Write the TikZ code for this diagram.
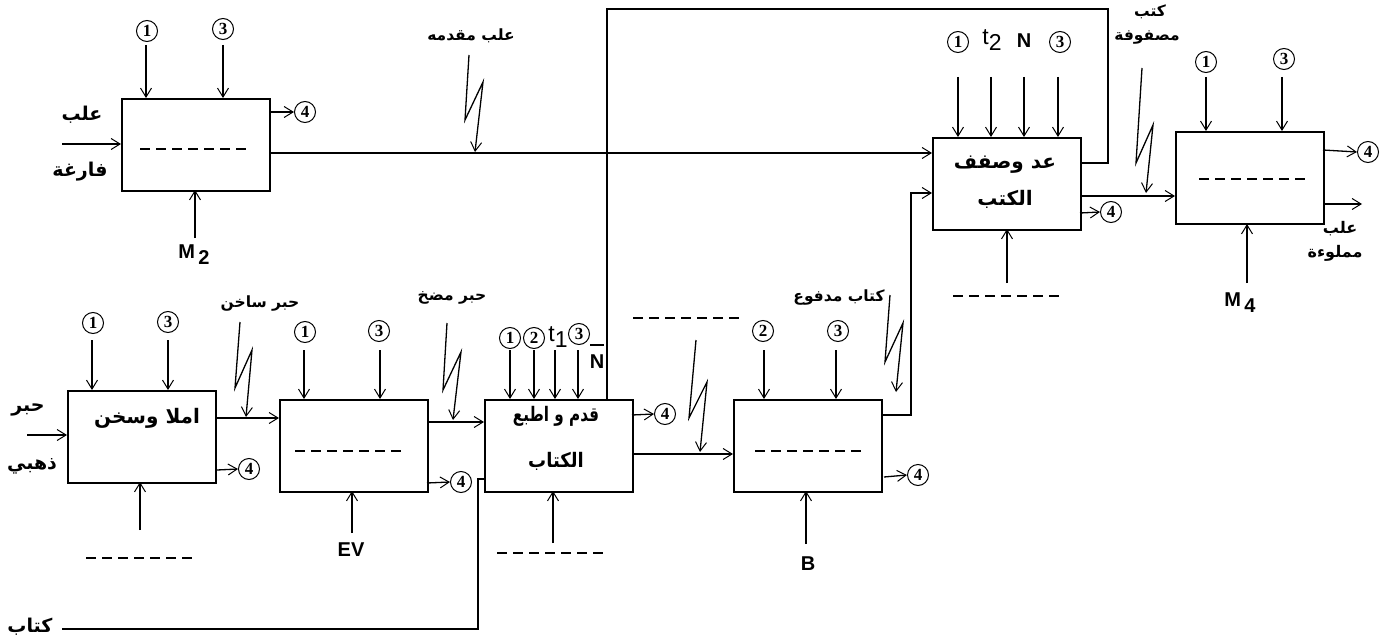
\documentclass[tikz,border=0pt]{standalone}
\usepackage{fontspec}
\setmainfont{Liberation Sans}
\newfontfamily\arabicfont[Script=Arabic]{DejaVu Sans}
\newfontfamily\numfont{Liberation Serif}
\TeXXeTstate=1
\usetikzlibrary{arrows.meta}
\newcommand{\ar}[1]{{\arabicfont\bfseries\beginR #1\endR}}
\begin{document}
\begin{tikzpicture}[x=1pt,y=-1pt,line width=1.3pt,
  arr/.style={-{Straight Barb[length=9pt,width=11pt,line width=1pt]}},
  proc/.style={draw,line width=1.8pt,minimum width=148pt,minimum height=92pt,inner sep=0pt,anchor=north west},
  num/.style={circle,draw,line width=1pt,inner sep=0pt,minimum size=21pt,font=\fontsize{17}{17}\selectfont\numfont\bfseries},
  lab/.style={font=\fontsize{15.5}{17}\selectfont,inner sep=0pt},
  blab/.style={font=\fontsize{19}{19}\selectfont,inner sep=0pt},
  big/.style={font=\fontsize{20}{37}\selectfont,align=center,inner sep=0pt},
  lt/.style={font=\fontsize{20}{20}\selectfont\bfseries,inner sep=0pt},
  tl/.style={font=\fontsize{23}{23}\selectfont,inner sep=0pt},
  ph/.style={dash pattern=on 10pt off 6pt,line width=1.3pt}]
\useasboundingbox (0,0) rectangle (1390,642);

% ---------- boxes ----------
\node[proc] (b1) at (121,98) {};
\node[proc] (b3) at (932,137) {};
\node[proc] (b4) at (1175,131) {};
\node[proc] (bA) at (67,390) {};
\node[proc] (bB) at (279,399) {};
\node[proc] (bC) at (484,399) {};
\node[proc] (bD) at (733,399) {};

% texts / placeholders inside boxes
\draw[ph] (140,149) -- (248,149);
\draw[ph] (1199,179) -- (1308,179);
\draw[ph] (295,451) -- (404,451);
\draw[ph] (755,451) -- (864,451);
\node[big] (t3) at (1005,182) {\ar{عد وصفف}\\\ar{الكتب}};
\node[big] (tA) at (147,418) {\ar{املا وسخن}};
\node[big,font=\fontsize{20}{46}\selectfont] (tC) at (556,438) {\scalebox{0.76}[1]{\ar{قدم و اطبع}}\\\scalebox{0.9}[1]{\ar{الكتاب}}};

% ---------- box 1 (top left) ----------
\node[num] (n11) at (147,31) {1};
\node[num] (n13) at (223,29) {3};
\draw[arr] (146,45) -- (146,98);
\draw[arr] (223,45) -- (223,98);
\coordinate (o1a) at (270,112);
\node[num] (n14) at (305,112) {4};
\draw[arr] (o1a) -- (n14.west);
\coordinate (i1) at (62,144);
\draw[arr] (i1) -- (i1 -| b1.west);
\node[blab] (l1a) at (82,115) {\ar{علب}};
\node[blab] (l1b) at (80,172) {\ar{فارغة}};
\node[lt] (m2) at (194,255) {M\,\raisebox{-6pt}{2}};
\draw[arr] (195,238) -- (195,190);

% ---------- box 3 ----------
\node[num] (n31) at (958,42) {1};
\node[tl] (t2) at (992,40) {t\raisebox{-6pt}{2}};
\node[lt] (nN) at (1024,41) {N};
\node[num] (n33) at (1060,42) {3};
\foreach \x in {958,991,1024,1058} \draw[arr] (\x,77) -- (\x,137);
\node[num] (n34) at (1111,212) {4};
\draw[arr] (1080,213) -- (n34.west);
\draw[arr] (1007,283) -- (1007,229);
\draw[ph] (953,296) -- (1062,296);

% ---------- box 4 ----------
\node[num] (n41) at (1206,62) {1};
\node[num] (n43) at (1284,59) {3};
\draw[arr] (1206,77) -- (1206,131);
\draw[arr] (1282,77) -- (1282,131);
\node[num] (n44) at (1368,152) {4};
\draw[arr] (1323,150) -- (n44.west);
\coordinate (o4) at (1362,204);
\draw[arr] (1323,204) -- (o4);
\node[lab,font=\fontsize{16}{16}\selectfont] (l4a) at (1340,229) {\ar{علب}};
\node[lab,font=\fontsize{16}{16}\selectfont] (l4b) at (1335,253) {\ar{مملوءة}};
\node[lt] (m4) at (1240,303) {M\,\raisebox{-6pt}{4}};
\draw[arr] (1247,283) -- (1247,224);

% ---------- box A ----------
\node[num] (nA1) at (93,323) {1};
\node[num] (nA3) at (168,322) {3};
\draw[arr] (92,340) -- (92,390);
\draw[arr] (168,340) -- (168,390);
\coordinate (iA) at (27,435);
\draw[arr] (iA) -- (iA -| bA.west);
\node[blab] (lAa) at (28,410) {\ar{حبر}};
\node[blab] (lAb) at (32,466) {\ar{ذهبي}};
\node[num] (nA4) at (249,469) {4};
\draw[arr] (217,470) -- (nA4.west);
\draw[arr] (140,530) -- (140,482);
\draw[ph] (86,558) -- (194,558);

% ---------- box B ----------
\node[num] (nB1) at (305,332) {1};
\node[num] (nB3) at (379,331) {3};
\draw[arr] (304,350) -- (304,399);
\draw[arr] (380,350) -- (380,399);
\node[num] (nB4) at (461,482) {4};
\draw[arr] (427,483) -- (nB4.west);
\node[lt] (ev) at (351,550) {EV};
\draw[arr] (352,533) -- (352,491);

% ---------- box C ----------
\node[num] (nC1) at (510,338) {1};
\node[num] (nC2) at (534,338) {2};
\node[tl] (t1) at (558,337) {t\raisebox{-6pt}{1}};
\node[num] (nC3) at (579,334) {3};
\node[lt] (nNb) at (597,362) {N};
\draw[line width=1.3pt] (590,345) -- (604,345);
\foreach \x in {510,534,555,578} \draw[arr] (\x,350) -- (\x,399);
\node[num] (nC4) at (665,414) {4};
\draw[arr] (632,415) -- (nC4.west);
\draw[arr] (553,543) -- (553,491);
\draw[ph] (497,553) -- (604,553);

% ---------- box D ----------
\node[num] (nD2) at (763,331) {2};
\node[num] (nD3) at (838,331) {3};
\draw[arr] (764,350) -- (764,399);
\draw[arr] (836,350) -- (836,399);
\node[num] (nD4) at (918,475) {4};
\draw[arr] (884,477) -- (nD4.west);
\node[lt] (bb) at (808,564) {B};
\draw[arr] (806,544) -- (806,491);

% ---------- flows ----------
\draw[arr] (b1.east |- 0,153) -- (b3.west |- 0,153);
\draw[arr] (bA.east |- 0,418) -- (bB.west |- 0,418);
\draw[arr] (bB.east |- 0,422) -- (bC.west |- 0,422);
\draw[arr] (bC.east |- 0,454) -- (bD.west |- 0,454);
\draw[arr] (bD.east |- 0,415) -- (911,415) -- (911,193) -- (b3.west |- 0,193);
\draw[arr] (b3.east |- 0,196) -- (b4.west |- 0,196);
\draw (607,399) -- (607,9) -- (1108,9) -- (1108,163) -- (b3.east |- 0,163);
\node[blab] (kt) at (30,627) {\ar{كتاب}};
\draw (62,629) -- (478,629) -- (478,479) -- (bC.west |- 0,479);

% ---------- lightning labels ----------
\node[lab] (z1) at (471,36) {\ar{علب مقدمه}};
\draw[arr] (469,55) -- (465,120) -- (483,82) -- (475,152);
\node[lab] (z2) at (260,304) {\ar{حبر ساخن}};
\draw[arr] (240,322) -- (235,388) -- (252,350) -- (246,417);
\node[lab] (z3) at (452,298) {\ar{حبر مضخ}};
\draw[arr] (447,323) -- (443,390) -- (461,352) -- (453,420);
\draw[ph] (633,318) -- (740,318);
\draw[arr] (696,340) -- (689,418) -- (707,382) -- (700,452);
\node[lab] (z5) at (839,298) {\ar{كتاب مدفوع}};
\draw[arr] (890,295) -- (885,362) -- (903,323) -- (896,392);
\node[lab] (z6a) at (1150,12) {\ar{كتب}};
\node[lab] (z6b) at (1147,38) {\ar{مصفوفة}};
\draw[arr] (1142,68) -- (1136,163) -- (1153,125) -- (1146,193);
\end{tikzpicture}
\end{document}
